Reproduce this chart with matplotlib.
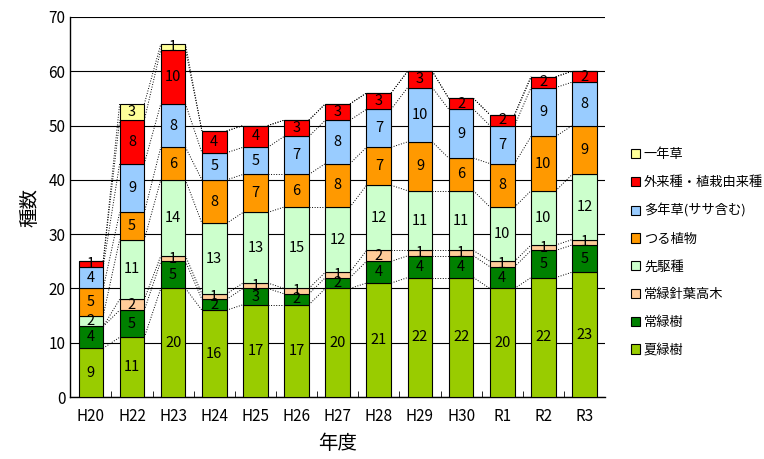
import numpy as np
import matplotlib.pyplot as plt

plt.rcParams['font.family'] = ['Noto Sans CJK JP', 'DejaVu Sans']

years = ['H20', 'H22', 'H23', 'H24', 'H25', 'H26', 'H27', 'H28', 'H29', 'H30', 'R1', 'R2', 'R3']

# 下から積み上げる順
natsu = [9, 11, 20, 16, 17, 17, 20, 21, 22, 22, 20, 22, 23]
jouryoku = [4, 5, 5, 2, 3, 2, 2, 4, 4, 4, 4, 5, 5]
shinyou = [0, 2, 1, 1, 1, 1, 1, 2, 1, 1, 1, 1, 1]
senku = [2, 11, 14, 13, 13, 15, 12, 12, 11, 11, 10, 10, 12]
tsuru = [5, 5, 6, 8, 7, 6, 8, 7, 9, 6, 8, 10, 9]
tanen = [4, 9, 8, 5, 5, 7, 8, 7, 10, 9, 7, 9, 8]
gairai = [1, 8, 10, 4, 4, 3, 3, 3, 3, 2, 2, 2, 2]
ichinen = [0, 3, 1, 0, 0, 0, 0, 0, 0, 0, 0, 0, 0]

series = [
    ('夏緑樹', natsu, '#99CC00'),
    ('常緑樹', jouryoku, '#008000'),
    ('常緑針葉高木', shinyou, '#FFCC99'),
    ('先駆種', senku, '#CCFFCC'),
    ('つる植物', tsuru, '#FF9900'),
    ('多年草(ササ含む)', tanen, '#99CCFF'),
    ('外来種・植栽由来種', gairai, '#FF0000'),
    ('一年草', ichinen, '#FFFF99'),
]

fig = plt.figure(figsize=(7.64, 4.59), dpi=100)
ax = fig.add_axes([0.092, 0.135, 0.7, 0.828])

x = np.arange(len(years))
w = 0.6
bottom = np.zeros(len(years))
handles = []
for name, vals, col in series:
    vals = np.array(vals, dtype=float)
    bars = ax.bar(x, vals, w, bottom=bottom, color=col, edgecolor='black',
                  linewidth=0.8, label=name, zorder=3)
    handles.append(bars)
    for i, v in enumerate(vals):
        if v > 0:
            ax.text(x[i], bottom[i] + v / 2, f'{int(v)}', ha='center', va='center',
                    fontsize=10.5, zorder=5)
    bottom = bottom + vals
    # 系列線（点線）
    for i in range(len(years) - 1):
        ax.plot([x[i] + w / 2, x[i + 1] - w / 2], [bottom[i], bottom[i + 1]],
                color='black', linestyle=':', linewidth=0.7, zorder=2)

ax.set_xlim(-0.5, len(years) - 0.5)
ax.set_ylim(0, 70)
ax.set_yticks(range(0, 71, 10))
ax.set_xticks(x)
ax.set_xticklabels(years, fontsize=11)
ax.tick_params(axis='x', length=0, pad=8)
ax.tick_params(axis='y', labelsize=11, direction='in', length=0)
ax.set_xticks(np.arange(0.5, len(years) - 0.5), minor=True)
ax.tick_params(axis='x', which='minor', direction='in', length=4)
ax.grid(axis='y', color='black', linewidth=0.8, zorder=0)
for s in ax.spines.values():
    s.set_linewidth(1.0)
ax.spines['top'].set_visible(False)
ax.spines['right'].set_visible(False)

ax.set_xlabel('年度', fontsize=14, labelpad=6)
ax.set_ylabel('種数', fontsize=14, labelpad=6)

leg = fig.legend(handles[::-1], [s[0] for s in series][::-1], loc='upper left',
                 bbox_to_anchor=(0.81, 0.703), frameon=False, fontsize=9.5,
                 handlelength=0.7, handleheight=0.7, labelspacing=1.12,
                 handletextpad=0.3)

plt.savefig('out.png', dpi=100)
